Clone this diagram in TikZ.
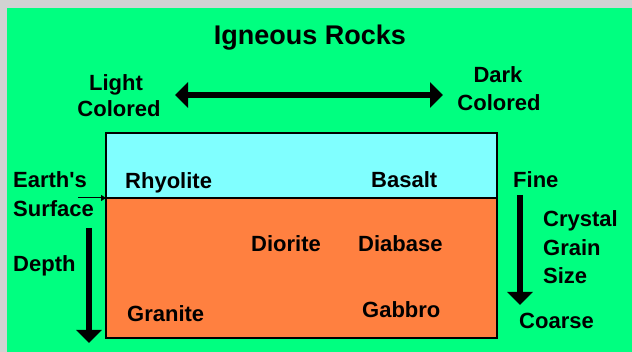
\documentclass[tikz,border=0pt]{standalone}
\usepackage{fontspec}
\setmainfont{Liberation Sans}[Ligatures=TeXOff]
\usetikzlibrary{arrows.meta}
\definecolor{bggray}{HTML}{D2D2D2}
\definecolor{bggreen}{HTML}{00FF80}
\definecolor{skyc}{HTML}{80FFFF}
\definecolor{rockor}{HTML}{FF8040}
\begin{document}
\begin{tikzpicture}[x=1pt,y=-1pt,
  lbl/.style={font=\bfseries\fontsize{22}{26}\selectfont, inner sep=0pt, anchor=base west},
  clbl/.style={lbl, anchor=base},
  ttl/.style={font=\bfseries\fontsize{27}{32}\selectfont, inner sep=0pt, anchor=base},
  bigarrow/.style={line width=5.5pt, -{Triangle[length=13pt,width=25pt]}},
  smallarrow/.style={line width=1pt, -{Triangle[length=5pt,width=6pt]}},
  layer/.style={draw=black, line width=1.5pt}]
\useasboundingbox (0,0) rectangle (632,352);
\fill[bggray] (0,0) rectangle (632,352);
\fill[bggreen] (7,8) rectangle (632,352);
% layers
\filldraw[layer, fill=skyc] (106,133) rectangle (497,198);
\filldraw[layer, fill=rockor] (106,198) rectangle (497,338);
% title
\node[ttl] (title) at (310,45) {Igneous Rocks};
% color arrow
\node[clbl] (light) at (116,91) {Light};
\node[clbl] (lcol) at (119,117) {Colored};
\node[clbl] (dark) at (498,83) {Dark};
\node[clbl] (dcol) at (499,111) {Colored};
\coordinate (hl) at (175,95);
\coordinate (hr) at (443,95);
\draw[bigarrow, {Triangle[length=13pt,width=25pt]}-{Triangle[length=13pt,width=25pt]}] (hl) -- (hr);
% left side
\node[lbl] (earth) at (13,188) {Earth's};
\node[lbl] (surf) at (13,217) {Surface};
\coordinate (sa) at (78,198);
\coordinate (sb) at (106,198);
\draw[smallarrow] (sa) -- (sb);
\node[lbl] (depth) at (13,272) {Depth};
\coordinate (dtop) at (89,228);
\coordinate (dbot) at (89,343);
\draw[bigarrow] (dtop) -- (dbot);
% right side
\node[lbl] (fine) at (513,188) {Fine};
\coordinate (gtop) at (520,195);
\coordinate (gbot) at (520,305);
\draw[bigarrow] (gtop) -- (gbot);
\node[lbl] (crystal) at (543,227) {Crystal};
\node[lbl] (grain) at (543,256) {Grain};
\node[lbl] (size) at (543,284) {Size};
\node[lbl] (coarse) at (519,329) {Coarse};
% rocks
\node[lbl] (rhy) at (125,189) {Rhyolite};
\node[lbl] (bas) at (371,188) {Basalt};
\node[lbl] (dio) at (251,252) {Diorite};
\node[lbl] (dia) at (358,252) {Diabase};
\node[lbl] (gra) at (127,322) {Granite};
\node[lbl] (gab) at (362,318) {Gabbro};
\end{tikzpicture}
\end{document}
